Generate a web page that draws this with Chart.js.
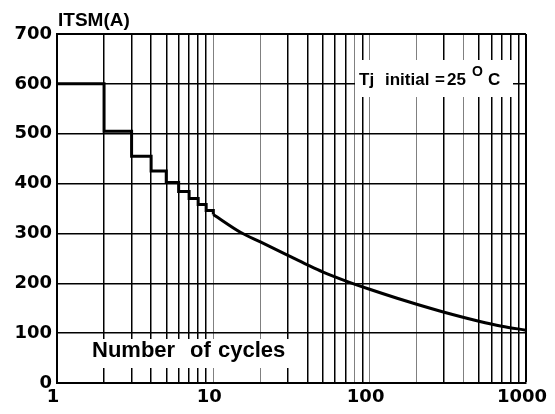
<!DOCTYPE html>
<html>
<head>
<meta charset="utf-8">
<script src="https://cdn.jsdelivr.net/npm/chart.js@4"></script>
<style>
  body { margin: 0; background: #fff; }
</style>
</head>
<body>
<canvas id="surge" width="555" height="414"></canvas>
<script>
// step part of the curve (1..10 cycles)
const stepCycles = [1, 2, 3, 4, 5, 6, 7, 8, 9, 10];
const stepCurrent = [600, 505, 455, 425, 402, 384, 370, 358, 346, 338];

// smooth part (10..1000 cycles)
const curveCycles = [10, 15, 20, 30, 40, 50, 70, 100, 150, 200, 300, 500, 700, 1000];
const curveCurrent = [338, 302, 283, 256, 237, 223, 205, 188, 170, 158, 142, 124, 114, 106];

const cycleTicks = [1, 2, 3, 4, 5, 6, 7, 8, 9, 10, 20, 30, 40, 50, 60, 70, 80, 90,
  100, 200, 300, 400, 500, 600, 700, 800, 900, 1000];
const labeledTicks = [1, 10, 100, 1000];
const greyLines = [10, 20, 80, 100, 200, 400];

const tickFont = { family: '"DejaVu Sans"', size: 18, weight: 'bold' };

const notes = {
  id: 'notes',
  beforeDatasetsDraw(chart) {
    const c = chart.ctx;
    c.save();
    // white boxes behind the labels, covering the grid
    c.fillStyle = '#fff';
    c.fillRect(355, 60, 158, 37);
    c.fillRect(86, 339, 210, 29);

    c.fillStyle = '#000';
    c.textBaseline = 'alphabetic';
    c.textAlign = 'left';
    c.font = 'bold 17px "Liberation Sans"';
    c.fillText('Tj', 359, 85);
    c.fillText('initial', 385, 85);
    c.fillText('=', 435, 85);
    c.fillText('25', 447, 85);
    c.fillText('C', 488, 85);
    c.font = 'bold 14px "Liberation Sans"';
    c.fillText('O', 472, 76);

    c.font = 'bold 22px "Liberation Sans"';
    c.fillText('Number', 92, 357);
    c.fillText('of', 190, 357);
    c.fillText('cycles', 218, 357);
    c.restore();
  },
  afterDraw(chart) {
    const c = chart.ctx;
    c.save();
    c.fillStyle = '#000';
    c.font = 'bold 19px "Liberation Sans"';
    c.textBaseline = 'alphabetic';
    c.fillText('ITSM(A)', 58, 26);
    c.restore();
  }
};

new Chart(document.getElementById('surge'), {
  type: 'line',
  data: {
    datasets: [{
      data: stepCycles.map((x, i) => ({ x: x, y: stepCurrent[i] })),
      stepped: 'before',
      borderColor: '#000',
      borderWidth: 3,
      pointRadius: 0
    }, {
      data: curveCycles.map((x, i) => ({ x: x, y: curveCurrent[i] })),
      borderColor: '#000',
      borderWidth: 3,
      pointRadius: 0,
      cubicInterpolationMode: 'monotone'
    }]
  },
  options: {
    responsive: false,
    animation: false,
    devicePixelRatio: 1,
    layout: { padding: { top: 34, right: 28, left: 0, bottom: 0 } },
    plugins: { legend: { display: false }, tooltip: { enabled: false } },
    scales: {
      x: {
        type: 'logarithmic',
        min: 1,
        max: 1000,
        afterBuildTicks: (s) => { s.ticks = cycleTicks.map(v => ({ value: v })); },
        afterFit: (s) => { s.height = 31; },
        grid: {
          drawTicks: false,
          color: (ctx) => greyLines.includes(ctx.tick && ctx.tick.value) ? '#808080' : '#000',
          lineWidth: (ctx) => {
            const v = ctx.tick && ctx.tick.value;
            if (v === 1000) return 2;
            return greyLines.includes(v) ? 1 : 1.5;
          }
        },
        border: { color: '#000', width: 2 },
        ticks: {
          autoSkip: false,
          maxRotation: 0,
          padding: 4,
          labelOffset: -4,
          color: '#000',
          font: tickFont,
          callback: (v) => labeledTicks.includes(v) ? String(v) : ''
        }
      },
      y: {
        min: 0,
        max: 700,
        afterFit: (s) => { s.width = 57; },
        grid: {
          drawTicks: false,
          color: '#000',
          lineWidth: (ctx) => (ctx.tick && ctx.tick.value === 700) ? 2 : 1.5
        },
        border: { color: '#000', width: 2 },
        ticks: {
          stepSize: 100,
          padding: 5,
          color: '#000',
          font: tickFont
        }
      }
    }
  },
  plugins: [notes]
});
</script>
</body>
</html>
